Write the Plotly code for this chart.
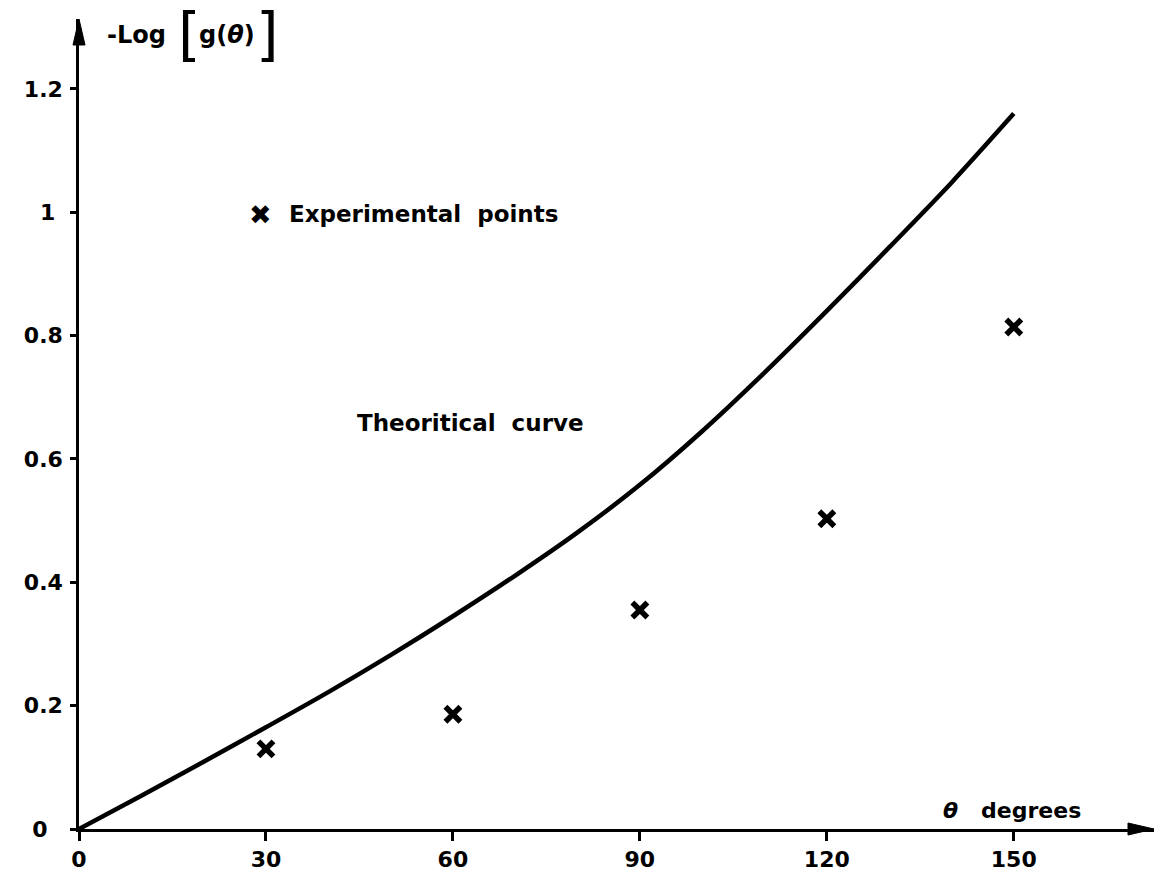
import plotly.graph_objects as go

# Theoretical curve
curve_theta = [0, 10, 20, 30, 40, 50, 60, 70, 80, 90, 100, 110, 120, 130, 140, 150]
curve_vals = [0, 0.054, 0.109, 0.165, 0.222, 0.282, 0.345, 0.411, 0.481, 0.558,
              0.645, 0.74, 0.84, 0.943, 1.048, 1.16]

# Experimental points
exp_theta = [30, 60, 90, 120, 150]
exp_vals = [0.13, 0.186, 0.355, 0.503, 0.814]

x_ticks = [0, 30, 60, 90, 120, 150]
x_ticktext = ["0", "30", "60", "90", "120", "150"]
y_ticks = [0, 0.2, 0.4, 0.6, 0.8, 1.0, 1.2]
y_ticktext = ["0\u00a0\u00a0", "0.2", "0.4", "0.6", "0.8", "1\u00a0", "1.2"]

X_MAX = 172.5
Y_MAX = 1.3134
FONT = "DejaVu Sans"

fig = go.Figure()
fig.add_trace(go.Scatter(
    x=curve_theta, y=curve_vals, mode="lines",
    line=dict(color="black", width=4.5, shape="spline", smoothing=0.8),
    showlegend=False, cliponaxis=False))
fig.add_trace(go.Scatter(
    x=exp_theta, y=exp_vals, mode="markers",
    marker=dict(symbol="x-thin", size=15, line=dict(color="black", width=5.5)),
    showlegend=False, cliponaxis=False))

axis_common = dict(showgrid=False, zeroline=False, showline=True,
                   linecolor="black", linewidth=2.5, ticks="outside",
                   tickcolor="black", tickwidth=2.5,
                   tickfont=dict(family=FONT, size=22, color="black", weight="bold"))

fig.update_xaxes(range=[0, X_MAX], tickvals=x_ticks, ticktext=x_ticktext,
                 ticklen=9, **axis_common)
fig.update_yaxes(range=[0, Y_MAX], tickvals=y_ticks, ticktext=y_ticktext,
                 ticklen=6, ticklabelstandoff=3, **axis_common)

# arrowheads on axis ends
fig.add_shape(type="path", xref="paper", yref="paper", xsizemode="pixel",
              ysizemode="pixel", xanchor=1, yanchor=0,
              path="M0,0 L-26,6 L-26,-6 Z", fillcolor="black",
              line=dict(color="black", width=1))
fig.add_shape(type="path", xref="paper", yref="paper", xsizemode="pixel",
              ysizemode="pixel", xanchor=0, yanchor=1,
              path="M0,0 L-6,-26 L6,-26 Z", fillcolor="black",
              line=dict(color="black", width=1))

def ann(text, x, y, size=23, xanchor="center", weight="bold"):
    fig.add_annotation(text=text, x=x, y=y, xref="x", yref="y", showarrow=False,
                       xanchor=xanchor, yanchor="middle",
                       font=dict(family=FONT, size=size, color="black", weight=weight))

# y axis title pieces: -Log [ g(θ) ]
ann("-Log", 9.3, 1.2875, size=24)
ann("[", 17.7, 1.2875, size=58, weight="normal")
ann("g(<i>θ</i>)", 23.8, 1.2875, size=24)
ann("]", 30.3, 1.2875, size=58, weight="normal")

ann("✖", 29.2, 0.997, size=27)
ann("Experimental  points", 33.4, 0.997, size=23, xanchor="left")
ann("Theoritical  curve", 62.9, 0.658, size=23)
ann("<i>θ</i>   degrees", 149.7, 0.03, size=22)

fig.update_layout(
    width=1154, height=875,
    margin=dict(l=79, r=0, t=19, b=46, pad=0),
    plot_bgcolor="white", paper_bgcolor="white",
    showlegend=False,
)

fig.write_html("out.html")
